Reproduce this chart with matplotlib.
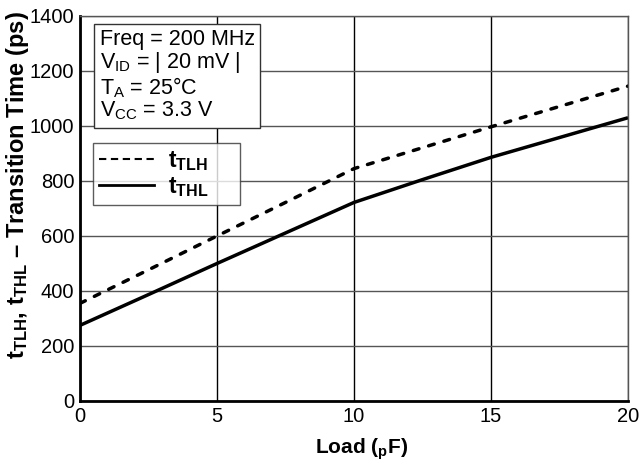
import matplotlib.pyplot as plt
from matplotlib.lines import Line2D

plt.rcParams['font.family'] = ['Liberation Sans', 'DejaVu Sans']
plt.rcParams['mathtext.fontset'] = 'custom'
plt.rcParams['mathtext.rm'] = 'Liberation Sans'
plt.rcParams['mathtext.bf'] = 'Liberation Sans:bold'

# load capacitance (pF) and transition times (ps)
load = [0, 2.5, 5, 7.5, 10, 12.5, 15, 17.5, 20]
t_tlh = [355, 477, 600, 722, 845, 921, 997, 1071, 1145]
t_thl = [275, 387, 500, 611, 722, 805, 886, 958, 1030]

xticks = [0, 5, 10, 15, 20]
yticks = [0, 200, 400, 600, 800, 1000, 1200, 1400]

fig = plt.figure(figsize=(6.42, 4.66), dpi=100)
ax = fig.add_axes([0.1246, 0.1395, 0.8536, 0.8262])

ax.plot(load, t_tlh, color='black', lw=2.5, linestyle=(0, (1.7, 2.9)),
        dash_capstyle='round')
ax.plot(load, t_thl, color='black', lw=2.5, solid_capstyle='butt')

ax.set_xlim(0, 20)
ax.set_ylim(0, 1400)
ax.set_xticks(xticks)
ax.set_yticks(yticks)
ax.tick_params(length=0, labelsize=14.5, pad=4)
ax.grid(axis='y', color='#555555', lw=1.0)
ax.grid(axis='x', color='black', lw=1.0)
ax.set_axisbelow(True)

for s in ['left', 'bottom']:
    ax.spines[s].set_linewidth(2.0)
for s in ['top', 'right']:
    ax.spines[s].set_linewidth(1.0)
    ax.spines[s].set_color('#555555')

ax.set_xlabel(r'Load ($_\mathregular{p}$F)', fontsize=15, fontweight='bold')
ax.xaxis.set_label_coords(0.513, -0.092)
ax.set_ylabel(r'$\mathbf{t_{TLH}}$, $\mathbf{t_{THL}}$ – Transition Time (ps)',
              fontsize=17, fontweight='bold')
ax.yaxis.set_label_coords(-0.09, 0.562)

cond = ('Freq = 200 MHz\n'
        r'V$_\mathregular{ID}$ = | 20 mV |' '\n'
        r'T$_\mathregular{A}$ = 25°C' '\n'
        r'V$_\mathregular{CC}$ = 3.3 V')
ax.text(0.036, 0.966, cond, transform=ax.transAxes, fontsize=15.5, va='top', ha='left',
        linespacing=1.0,
        bbox=dict(boxstyle='square,pad=0.25', fc='white', ec='#333333', lw=1.0))

handles = [Line2D([], [], color='black', lw=1.5, linestyle=(0, (3.5, 2.2))),
           Line2D([], [], color='black', lw=2.0)]
labels = [r'$\mathbf{t_{TLH}}$' + '     ', r'$\mathbf{t_{THL}}$' + '     ']
leg = ax.legend(handles, labels, loc='upper left', bbox_to_anchor=(0.024, 0.67),
                fontsize=16.5, frameon=True, fancybox=False, handlelength=2.4,
                handletextpad=0.6, borderpad=0.25, labelspacing=0.1,
                borderaxespad=0)
leg.get_frame().set_edgecolor('#333333')
leg.get_frame().set_linewidth(1.0)

fig.savefig('out.png', dpi=100)
